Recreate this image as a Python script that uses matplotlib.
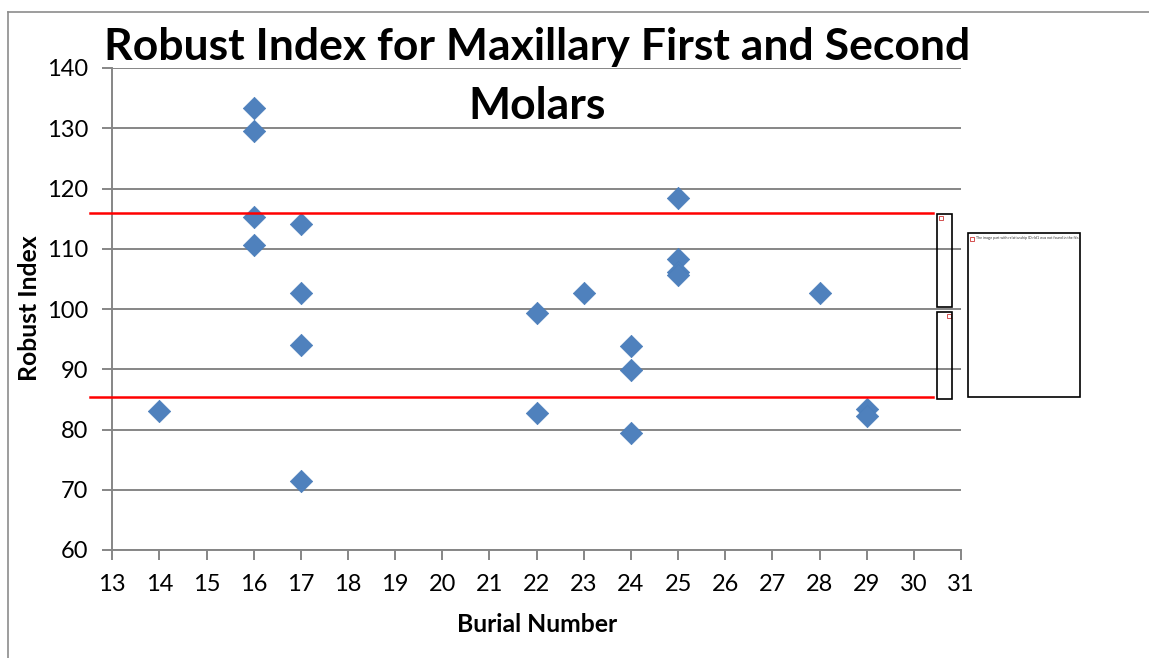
import matplotlib
matplotlib.use("Agg")
import matplotlib.pyplot as plt
from matplotlib.patches import Rectangle
from matplotlib.lines import Line2D

# ---- data ----
burial = [14, 16, 16, 16, 16, 17, 17, 17, 17, 22, 22, 23, 24, 24, 24, 25, 25, 25, 25, 28, 29, 29]
robust = [83.1, 133.4, 129.5, 115.3, 110.6, 114.1, 102.6, 94.0, 71.5, 99.3, 82.7, 102.6,
          93.9, 89.9, 79.5, 118.5, 108.3, 106.2, 105.6, 102.6, 83.4, 82.3]
thresholds = [116.0, 85.4]
x_ticks = list(range(13, 32))
y_ticks = list(range(60, 141, 10))
title_lines = ["Robust Index for Maxillary First and Second", "Molars"]
xlabel = "Burial Number"
ylabel = "Robust Index"

W, H = 1149, 658
FONT = ["Lato", "DejaVu Sans"]
plt.rcParams["font.family"] = FONT

fig = plt.figure(figsize=(W / 100, H / 100), dpi=100)
fig.patch.set_facecolor("white")

def fx(px):
    return px / W

def fy(py):
    return 1 - py / H

ax = fig.add_axes([fx(112.3), fy(550), fx(961) - fx(112.3), fy(68) - fy(550)])
grid_c = "#868686"
ax.set_xlim(13, 31)
ax.set_ylim(60, 140)
ax.set_xticks(x_ticks)
ax.set_yticks(y_ticks)
ax.grid(axis="y", color=grid_c, linewidth=1.4)
ax.set_axisbelow(True)
for s in ["top", "right"]:
    ax.spines[s].set_visible(False)
for s in ["left", "bottom"]:
    ax.spines[s].set_color(grid_c)
    ax.spines[s].set_linewidth(1.4)
ax.tick_params(axis="both", direction="out", length=7.5, width=1.4, color=grid_c,
               labelsize=17, labelcolor="black")
ax.tick_params(axis="y", pad=10)
ax.tick_params(axis="x", pad=10)

ax.scatter(burial, robust, marker="D", s=130, color="#4F81BD", edgecolor="#4A7EBB",
           linewidth=0.5, zorder=3, clip_on=False)

# red threshold lines (drawn beyond axes like shapes)
for t in thresholds:
    ax.plot([12.53, 30.4], [t, t], color="#FF0000", linewidth=1.8, clip_on=False, zorder=4)

fig.text(fx(537), fy(47), title_lines[0], ha="center", va="center", fontsize=32,
         fontweight="bold")
fig.text(fx(537), fy(106), title_lines[1], ha="center", va="center", fontsize=32,
         fontweight="bold")
fig.text(fx(30), fy(308), ylabel, rotation=90, ha="center", va="center", fontsize=17.8,
         fontweight="bold")
fig.text(fx(537), fy(625), xlabel, ha="center", va="center", fontsize=17.8, fontweight="bold")

# figure border (partial, as in reference)
fig.add_artist(Line2D([fx(8), fx(8)], [fy(11.5), 0], color="#8c8c8c", linewidth=1.2))
fig.add_artist(Line2D([fx(8), 1], [fy(11.5), fy(11.5)], color="#8c8c8c", linewidth=1.2))

# missing-image placeholders
def box(x0, y0, x1, y1):
    fig.add_artist(Rectangle((fx(x0), fy(y1)), fx(x1) - fx(x0), fy(y0) - fy(y1),
                             fill=False, edgecolor="black", linewidth=1.2, zorder=5))

box(937, 214, 952, 307)
box(937, 312, 952, 399)
box(968, 233, 1080, 397)
fig.text(fx(976), fy(238), "The image part with relationship ID rId1 was not found in the file.",
         fontsize=2.6, ha="left", va="center", color="#333333")
for (xx, yy) in [(970, 238), (939, 217), (947, 315)]:
    fig.add_artist(Rectangle((fx(xx), fy(yy + 3)), fx(4), 4 / H, fill=False,
                             edgecolor="#cc3333", linewidth=0.6))

fig.savefig("out.png", dpi=100, facecolor="white")
